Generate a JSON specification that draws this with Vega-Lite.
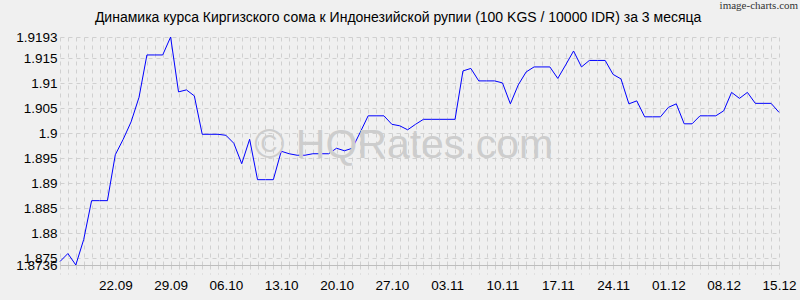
{
  "$schema": "https://vega.github.io/schema/vega-lite/v6.json",
  "width": 719,
  "height": 228,
  "autosize": {"type": "none"},
  "padding": {"left": 60, "top": 37, "right": 21, "bottom": 35},
  "background": "#f0f0f0",
  "config": {
    "view": {"stroke": null},
    "font": "Liberation Sans",
    "axisX": {
      "title": null,
      "labelFlush": false,
      "labelOverlap": false,
      "labelBound": false,
      "labelFontSize": 13.5,
      "labelColor": "#000000",
      "labelFont": "Liberation Sans",
      "labelPadding": 4,
      "grid": true,
      "gridColor": "#d0d0d0",
      "gridDash": [4, 4],
      "ticks": true,
      "tickSize": 9,
      "tickColor": "#d0d0d0",
      "tickDash": [4, 4],
      "domain": true,
      "domainColor": "#bdbdbd"
    },
    "axisY": {
      "title": null,
      "labelOverlap": false,
      "labelFontSize": 13.5,
      "labelColor": "#000000",
      "labelFont": "Liberation Sans",
      "labelPadding": 3,
      "ticks": false,
      "domain": false,
      "grid": true,
      "gridColor": "#d0d0d0",
      "gridDash": [4, 4]
    }
  },
  "data": {
    "values": [
      {"date": "2025-09-15", "rate": 1.8743},
      {"date": "2025-09-16", "rate": 1.8759},
      {"date": "2025-09-17", "rate": 1.8736},
      {"date": "2025-09-18", "rate": 1.8787},
      {"date": "2025-09-19", "rate": 1.8865},
      {"date": "2025-09-20", "rate": 1.8865},
      {"date": "2025-09-21", "rate": 1.8865},
      {"date": "2025-09-22", "rate": 1.8957},
      {"date": "2025-09-23", "rate": 1.8988},
      {"date": "2025-09-24", "rate": 1.9023},
      {"date": "2025-09-25", "rate": 1.9072},
      {"date": "2025-09-26", "rate": 1.9157},
      {"date": "2025-09-27", "rate": 1.9157},
      {"date": "2025-09-28", "rate": 1.9157},
      {"date": "2025-09-29", "rate": 1.9193},
      {"date": "2025-09-30", "rate": 1.9083},
      {"date": "2025-10-01", "rate": 1.9087},
      {"date": "2025-10-02", "rate": 1.9075},
      {"date": "2025-10-03", "rate": 1.8998},
      {"date": "2025-10-04", "rate": 1.8998},
      {"date": "2025-10-05", "rate": 1.8998},
      {"date": "2025-10-06", "rate": 1.8996},
      {"date": "2025-10-07", "rate": 1.898},
      {"date": "2025-10-08", "rate": 1.8939},
      {"date": "2025-10-09", "rate": 1.8988},
      {"date": "2025-10-10", "rate": 1.8907},
      {"date": "2025-10-11", "rate": 1.8907},
      {"date": "2025-10-12", "rate": 1.8907},
      {"date": "2025-10-13", "rate": 1.8964},
      {"date": "2025-10-14", "rate": 1.8959},
      {"date": "2025-10-15", "rate": 1.8956},
      {"date": "2025-10-16", "rate": 1.8956},
      {"date": "2025-10-17", "rate": 1.8959},
      {"date": "2025-10-18", "rate": 1.8959},
      {"date": "2025-10-19", "rate": 1.8959},
      {"date": "2025-10-20", "rate": 1.897},
      {"date": "2025-10-21", "rate": 1.8965},
      {"date": "2025-10-22", "rate": 1.897},
      {"date": "2025-10-23", "rate": 1.9002},
      {"date": "2025-10-24", "rate": 1.9035},
      {"date": "2025-10-25", "rate": 1.9035},
      {"date": "2025-10-26", "rate": 1.9035},
      {"date": "2025-10-27", "rate": 1.9018},
      {"date": "2025-10-28", "rate": 1.9015},
      {"date": "2025-10-29", "rate": 1.9007},
      {"date": "2025-10-30", "rate": 1.9018},
      {"date": "2025-10-31", "rate": 1.9028},
      {"date": "2025-11-01", "rate": 1.9028},
      {"date": "2025-11-02", "rate": 1.9028},
      {"date": "2025-11-03", "rate": 1.9028},
      {"date": "2025-11-04", "rate": 1.9028},
      {"date": "2025-11-05", "rate": 1.9125},
      {"date": "2025-11-06", "rate": 1.913},
      {"date": "2025-11-07", "rate": 1.9105},
      {"date": "2025-11-08", "rate": 1.9105},
      {"date": "2025-11-09", "rate": 1.9105},
      {"date": "2025-11-10", "rate": 1.9101},
      {"date": "2025-11-11", "rate": 1.9059},
      {"date": "2025-11-12", "rate": 1.9097},
      {"date": "2025-11-13", "rate": 1.9123},
      {"date": "2025-11-14", "rate": 1.9133},
      {"date": "2025-11-15", "rate": 1.9133},
      {"date": "2025-11-16", "rate": 1.9133},
      {"date": "2025-11-17", "rate": 1.911},
      {"date": "2025-11-18", "rate": 1.9137},
      {"date": "2025-11-19", "rate": 1.9165},
      {"date": "2025-11-20", "rate": 1.9133},
      {"date": "2025-11-21", "rate": 1.9146},
      {"date": "2025-11-22", "rate": 1.9146},
      {"date": "2025-11-23", "rate": 1.9146},
      {"date": "2025-11-24", "rate": 1.9118},
      {"date": "2025-11-25", "rate": 1.9109},
      {"date": "2025-11-26", "rate": 1.9059},
      {"date": "2025-11-27", "rate": 1.9065},
      {"date": "2025-11-28", "rate": 1.9033},
      {"date": "2025-11-29", "rate": 1.9033},
      {"date": "2025-11-30", "rate": 1.9033},
      {"date": "2025-12-01", "rate": 1.9052},
      {"date": "2025-12-02", "rate": 1.9059},
      {"date": "2025-12-03", "rate": 1.9019},
      {"date": "2025-12-04", "rate": 1.9019},
      {"date": "2025-12-05", "rate": 1.9035},
      {"date": "2025-12-06", "rate": 1.9035},
      {"date": "2025-12-07", "rate": 1.9035},
      {"date": "2025-12-08", "rate": 1.9045},
      {"date": "2025-12-09", "rate": 1.9082},
      {"date": "2025-12-10", "rate": 1.907},
      {"date": "2025-12-11", "rate": 1.9082},
      {"date": "2025-12-12", "rate": 1.906},
      {"date": "2025-12-13", "rate": 1.906},
      {"date": "2025-12-14", "rate": 1.906},
      {"date": "2025-12-15", "rate": 1.9042}
    ]
  },
  "layer": [
    {
      "mark": {"type": "line", "color": "#0000ff", "strokeWidth": 1},
      "encoding": {
        "x": {
          "field": "date",
          "type": "temporal",
          "scale": {
            "type": "utc",
            "nice": false,
            "domain": [
              {"year": 2025, "month": 9, "date": 15, "utc": true},
              {"year": 2025, "month": 12, "date": 15, "utc": true}
            ]
          },
          "axis": {
            "title": null,
            "labelOverlap": false,
            "tickCount": {"interval": "day", "step": 1},
            "labelExpr": "utcday(datum.value) == 1 && datum.value > utc(2025, 8, 16) ? utcFormat(datum.value, '%d.%m') : ''"
          }
        },
        "y": {
          "field": "rate",
          "type": "quantitative",
          "scale": {"domain": [1.8736, 1.9193], "nice": false, "zero": false},
          "axis": {
            "title": null,
            "labelOverlap": false,
            "tickCount": 30,
            "values": [1.8736, 1.875, 1.88, 1.885, 1.89, 1.895, 1.9, 1.905, 1.91, 1.915, 1.9193],
            "labelExpr": "'' + datum.value"
          }
        }
      }
    },
    {
      "data": {"values": [{}]},
      "mark": {"type": "text", "text": "© HQRates.com", "font": "Liberation Sans", "fontSize": 41, "color": "#cdcdcd", "align": "center", "baseline": "middle"},
      "encoding": {
        "x": {"datum": {"year": 2025, "month": 10, "date": 28, "hours": 12, "utc": true}, "type": "temporal", "axis": {"title": null, "labelOverlap": false}},
        "y": {"datum": 1.8974, "type": "quantitative", "axis": {"title": null, "labelOverlap": false}}
      }
    },
    {
      "data": {"values": [{}]},
      "mark": {"type": "text", "text": "Динамика курса Киргизского сома к Индонезийской рупии (100 KGS / 10000 IDR) за 3 месяца", "font": "Liberation Sans", "fontSize": 14, "color": "#000000", "align": "center", "baseline": "middle"},
      "encoding": {
        "x": {"datum": {"year": 2025, "month": 10, "date": 27, "hours": 19, "utc": true}, "type": "temporal", "axis": {"title": null, "labelOverlap": false}},
        "y": {"datum": 1.92311, "type": "quantitative", "axis": {"title": null, "labelOverlap": false}}
      }
    },
    {
      "data": {"values": [{}]},
      "mark": {"type": "text", "text": "image-charts.com", "font": "Liberation Sans Narrow", "fontSize": 11, "color": "#333333", "align": "right", "baseline": "middle"},
      "encoding": {
        "x": {"datum": {"year": 2025, "month": 12, "date": 17, "hours": 10, "utc": true}, "type": "temporal", "axis": {"title": null, "labelOverlap": false}},
        "y": {"datum": 1.92551, "type": "quantitative", "axis": {"title": null, "labelOverlap": false}}
      }
    }
  ]
}
